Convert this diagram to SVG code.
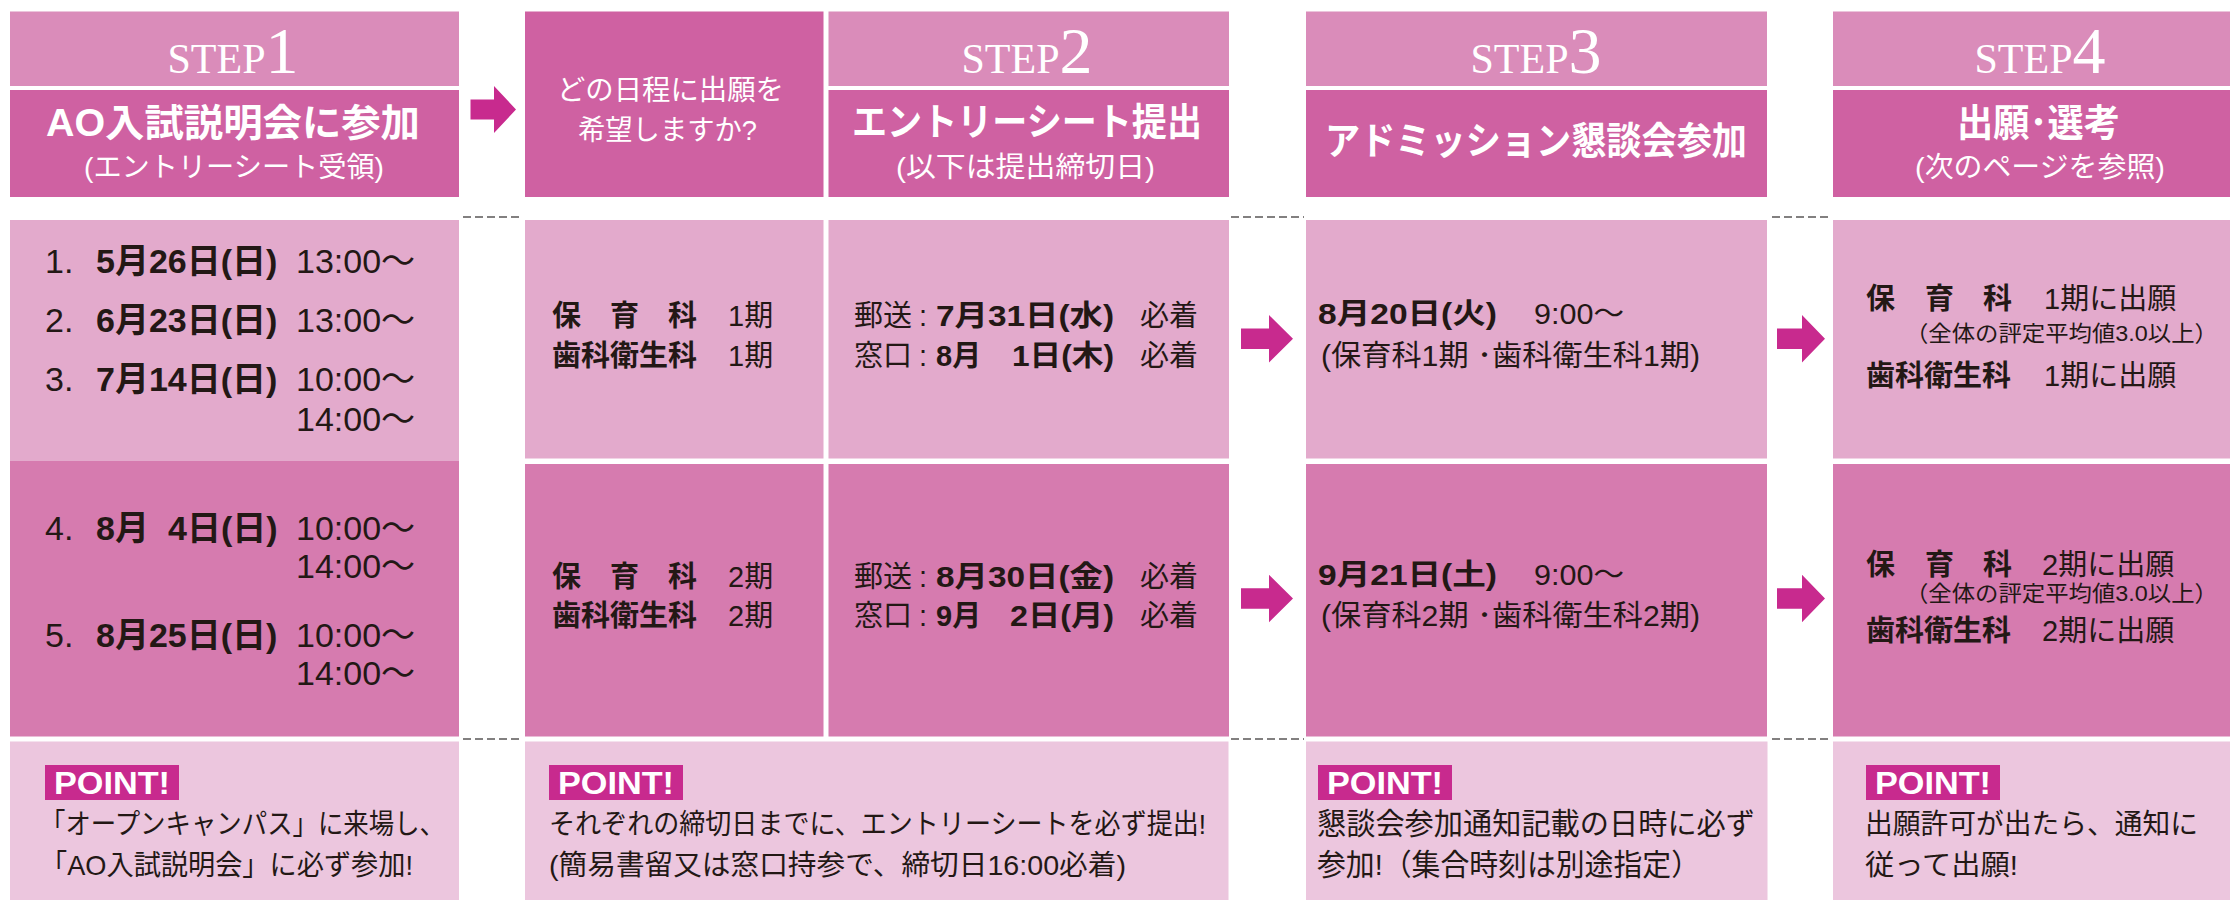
<svg xmlns="http://www.w3.org/2000/svg" width="2230" height="900" viewBox="0 0 2230 900">
<style>
.hl{fill:#DA8CBA}
.hd{fill:#CF61A2}
.r1{fill:#E3AACC}
.r2{fill:#D67BAF}
.pt{fill:#ECC6DE}
.ar{fill:#C82A8E}
.dash{stroke:#595757;stroke-width:1.6;stroke-dasharray:8 4;fill:none}
.step{font-family:"Liberation Serif",serif;fill:#fff;font-size:42px}
.stepn{font-size:66px}
.ttl{font-family:"Liberation Sans","Noto Sans CJK JP",sans-serif;font-weight:bold;fill:#fff;font-size:38px}
.sub{font-family:"Liberation Sans","Noto Sans CJK JP",sans-serif;fill:#fff;font-size:28px}
.t{font-family:"Liberation Sans","Noto Sans CJK JP",sans-serif;fill:#231815}
.b{font-weight:bold}
.f34{font-size:34px}
.f30{font-size:30px}
.f29{font-size:29px}
.f28{font-size:28px}
.f22{font-size:22px}
.badge{font-family:"Liberation Sans",sans-serif;font-weight:bold;fill:#fff;font-size:31px}
</style>

<g id="step1">
  <g id="step1-header">
    <rect class="hl" x="10" y="11.5" width="449" height="74.5"/>
    <text class="step" x="233" y="73" text-anchor="middle">STEP<tspan class="stepn">1</tspan></text>
  </g>
  <g id="step1-title">
    <rect class="hd" x="10" y="90" width="449" height="107"/>
    <text class="ttl" x="46" y="136" textLength="374" lengthAdjust="spacingAndGlyphs">AO入試説明会に参加</text>
    <text class="sub" x="84" y="177" textLength="300" lengthAdjust="spacingAndGlyphs">(エントリーシート受領)</text>
  </g>
  <g id="step1-dates1">
    <rect class="r1" x="10" y="220" width="449" height="241"/>
    <text class="t f34" y="273"><tspan x="45">1.</tspan><tspan x="96" class="b">5月26日(日)</tspan><tspan x="296">13:00〜</tspan></text>
    <text class="t f34" y="331.5"><tspan x="45">2.</tspan><tspan x="96" class="b">6月23日(日)</tspan><tspan x="296">13:00〜</tspan></text>
    <text class="t f34" y="390.5"><tspan x="45">3.</tspan><tspan x="96" class="b">7月14日(日)</tspan><tspan x="296">10:00〜</tspan></text>
    <text class="t f34" x="296" y="431">14:00〜</text>
  </g>
  <g id="step1-dates2">
    <rect class="r2" x="10" y="461" width="449" height="275.5"/>
    <text class="t f34" y="540"><tspan x="45">4.</tspan><tspan x="96" class="b">8月</tspan><tspan x="168" class="b">4日(日)</tspan><tspan x="296">10:00〜</tspan></text>
    <text class="t f34" x="296" y="578">14:00〜</text>
    <text class="t f34" y="647"><tspan x="45">5.</tspan><tspan x="96" class="b">8月25日(日)</tspan><tspan x="296">10:00〜</tspan></text>
    <text class="t f34" x="296" y="685">14:00〜</text>
  </g>
  <g id="step1-point">
    <rect class="pt" x="10" y="741.5" width="449" height="160"/>
    <rect class="ar" x="45" y="765" width="134" height="35"/>
    <text class="badge" x="54" y="794" textLength="116" lengthAdjust="spacingAndGlyphs">POINT!</text>
    <text class="t f28" x="40" y="834" textLength="405" lengthAdjust="spacingAndGlyphs">「オープンキャンパス」に来場し、</text>
    <text class="t f28" x="40" y="875" textLength="373" lengthAdjust="spacingAndGlyphs">「AO入試説明会」に必ず参加!</text>
  </g>
</g>

<g id="question">
  <g id="question-head">
    <rect class="hd" x="525" y="11.5" width="298.5" height="185.5"/>
    <text class="sub" x="557" y="100" textLength="227" lengthAdjust="spacingAndGlyphs">どの日程に出願を</text>
    <text class="sub" x="578" y="140" textLength="179" lengthAdjust="spacingAndGlyphs">希望しますか?</text>
  </g>
  <g id="question-1">
    <rect class="r1" x="525" y="220" width="298.5" height="238.5"/>
    <text class="t f29 b" y="326"><tspan x="552">保</tspan><tspan x="610">育</tspan><tspan x="668">科</tspan></text>
    <text class="t f29" x="728" y="326">1期</text>
    <text class="t f29 b" x="552" y="366" textLength="145" lengthAdjust="spacingAndGlyphs">歯科衛生科</text>
    <text class="t f29" x="728" y="366">1期</text>
  </g>
  <g id="question-2">
    <rect class="r2" x="525" y="464" width="298.5" height="272.5"/>
    <text class="t f29 b" y="587"><tspan x="552">保</tspan><tspan x="610">育</tspan><tspan x="668">科</tspan></text>
    <text class="t f29" x="728" y="587">2期</text>
    <text class="t f29 b" x="552" y="626" textLength="145" lengthAdjust="spacingAndGlyphs">歯科衛生科</text>
    <text class="t f29" x="728" y="626">2期</text>
  </g>
</g>

<g id="step2">
  <g id="step2-header">
    <rect class="hl" x="828.5" y="11.5" width="400.5" height="74.5"/>
    <text class="step" x="1027" y="73" text-anchor="middle">STEP<tspan class="stepn">2</tspan></text>
  </g>
  <g id="step2-title">
    <rect class="hd" x="828.5" y="90" width="400.5" height="107"/>
    <text class="ttl" x="852" y="135" textLength="350" lengthAdjust="spacingAndGlyphs">エントリーシート提出</text>
    <text class="sub" x="896" y="177" textLength="259" lengthAdjust="spacingAndGlyphs">(以下は提出締切日)</text>
  </g>
  <g id="step2-deadline1">
    <rect class="r1" x="828.5" y="220" width="400.5" height="238.5"/>
    <text class="t f29" y="326"><tspan x="854">郵送</tspan><tspan x="919">:</tspan></text>
    <text class="t f29 b" x="936" y="326" textLength="178" lengthAdjust="spacingAndGlyphs">7月31日(水)</text>
    <text class="t f29" x="1140" y="326">必着</text>
    <text class="t f29" y="366"><tspan x="854">窓口</tspan><tspan x="919">:</tspan></text>
    <text class="t f29 b" x="936" y="366">8月</text>
    <text class="t f29 b" x="1012" y="366" textLength="102" lengthAdjust="spacingAndGlyphs">1日(木)</text>
    <text class="t f29" x="1140" y="366">必着</text>
  </g>
  <g id="step2-deadline2">
    <rect class="r2" x="828.5" y="464" width="400.5" height="272.5"/>
    <text class="t f29" y="587"><tspan x="854">郵送</tspan><tspan x="919">:</tspan></text>
    <text class="t f29 b" x="936" y="587" textLength="178" lengthAdjust="spacingAndGlyphs">8月30日(金)</text>
    <text class="t f29" x="1140" y="587">必着</text>
    <text class="t f29" y="626"><tspan x="854">窓口</tspan><tspan x="919">:</tspan></text>
    <text class="t f29 b" x="936" y="626">9月</text>
    <text class="t f29 b" x="1010" y="626" textLength="104" lengthAdjust="spacingAndGlyphs">2日(月)</text>
    <text class="t f29" x="1140" y="626">必着</text>
  </g>
  <g id="step2-point">
    <rect class="pt" x="525" y="741.5" width="703.5" height="160"/>
    <rect class="ar" x="549" y="765" width="134" height="35"/>
    <text class="badge" x="558" y="794" textLength="116" lengthAdjust="spacingAndGlyphs">POINT!</text>
    <text class="t f28" x="549" y="834" textLength="657" lengthAdjust="spacingAndGlyphs">それぞれの締切日までに、エントリーシートを必ず提出!</text>
    <text class="t f28" x="549" y="875" textLength="577" lengthAdjust="spacingAndGlyphs">(簡易書留又は窓口持参で、締切日16:00必着)</text>
  </g>
</g>

<g id="step3">
  <g id="step3-header">
    <rect class="hl" x="1306" y="11.5" width="461" height="74.5"/>
    <text class="step" x="1536" y="73" text-anchor="middle">STEP<tspan class="stepn">3</tspan></text>
  </g>
  <g id="step3-title">
    <rect class="hd" x="1306" y="90" width="461" height="107"/>
    <text class="ttl" x="1325" y="154" textLength="422" lengthAdjust="spacingAndGlyphs">アドミッション懇談会参加</text>
  </g>
  <g id="step3-meeting1">
    <rect class="r1" x="1306" y="220" width="461" height="238.5"/>
    <text class="t f29 b" x="1318" y="324" textLength="179" lengthAdjust="spacingAndGlyphs">8月20日(火)</text>
    <text class="t f29" x="1534" y="324" textLength="90" lengthAdjust="spacingAndGlyphs">9:00〜</text>
    <text class="t f29" x="1321" y="366" textLength="379" lengthAdjust="spacingAndGlyphs">(保育科1期 ･歯科衛生科1期)</text>
  </g>
  <g id="step3-meeting2">
    <rect class="r2" x="1306" y="464" width="461" height="272.5"/>
    <text class="t f29 b" x="1318" y="585" textLength="179" lengthAdjust="spacingAndGlyphs">9月21日(土)</text>
    <text class="t f29" x="1534" y="585" textLength="90" lengthAdjust="spacingAndGlyphs">9:00〜</text>
    <text class="t f29" x="1321" y="626" textLength="379" lengthAdjust="spacingAndGlyphs">(保育科2期 ･歯科衛生科2期)</text>
  </g>
  <g id="step3-point">
    <rect class="pt" x="1306" y="741.5" width="461.5" height="160"/>
    <rect class="ar" x="1318" y="765" width="134" height="35"/>
    <text class="badge" x="1327" y="794" textLength="116" lengthAdjust="spacingAndGlyphs">POINT!</text>
    <text class="t f30" x="1317" y="834" textLength="438" lengthAdjust="spacingAndGlyphs">懇談会参加通知記載の日時に必ず</text>
    <text class="t f30" x="1317" y="875" textLength="383" lengthAdjust="spacingAndGlyphs">参加!（集合時刻は別途指定）</text>
  </g>
</g>

<g id="step4">
  <g id="step4-header">
    <rect class="hl" x="1833" y="11.5" width="400" height="74.5"/>
    <text class="step" x="2040" y="73" text-anchor="middle">STEP<tspan class="stepn">4</tspan></text>
  </g>
  <g id="step4-title">
    <rect class="hd" x="1833" y="90" width="400" height="107"/>
    <text class="ttl" x="1957" y="136" textLength="163" lengthAdjust="spacingAndGlyphs">出願･選考</text>
    <text class="sub" x="1915" y="177" textLength="250" lengthAdjust="spacingAndGlyphs">(次のページを参照)</text>
  </g>
  <g id="step4-apply1">
    <rect class="r1" x="1833" y="220" width="400" height="238.5"/>
    <text class="t f29 b" y="309"><tspan x="1866">保</tspan><tspan x="1925">育</tspan><tspan x="1983">科</tspan></text>
    <text class="t f29" x="2044" y="309">1期に出願</text>
    <text class="t f22" x="1905" y="341" textLength="313" lengthAdjust="spacingAndGlyphs">（全体の評定平均値3.0以上）</text>
    <text class="t f29 b" x="1866" y="386" textLength="145" lengthAdjust="spacingAndGlyphs">歯科衛生科</text>
    <text class="t f29" x="2044" y="386">1期に出願</text>
  </g>
  <g id="step4-apply2">
    <rect class="r2" x="1833" y="464" width="400" height="272.5"/>
    <text class="t f29 b" y="575"><tspan x="1866">保</tspan><tspan x="1925">育</tspan><tspan x="1983">科</tspan></text>
    <text class="t f29" x="2042" y="575">2期に出願</text>
    <text class="t f22" x="1905" y="601" textLength="313" lengthAdjust="spacingAndGlyphs">（全体の評定平均値3.0以上）</text>
    <text class="t f29 b" x="1866" y="641" textLength="145" lengthAdjust="spacingAndGlyphs">歯科衛生科</text>
    <text class="t f29" x="2042" y="641">2期に出願</text>
  </g>
  <g id="step4-point">
    <rect class="pt" x="1833" y="741.5" width="400" height="160"/>
    <rect class="ar" x="1866" y="765" width="134" height="35"/>
    <text class="badge" x="1875" y="794" textLength="116" lengthAdjust="spacingAndGlyphs">POINT!</text>
    <text class="t f28" x="1865" y="834" textLength="333" lengthAdjust="spacingAndGlyphs">出願許可が出たら、通知に</text>
    <text class="t f28" x="1865" y="875" textLength="153" lengthAdjust="spacingAndGlyphs">従って出願!</text>
  </g>
</g>

<g id="connectors">
  <path class="ar" d="M470.5,99.5 H494 V86 L516,109.5 L494,133 V119.5 H470.5 Z"/>
  <path class="ar" d="M1241,328.5 H1269 V315 L1293,338.7 L1269,362.4 V349 H1241 Z"/>
  <path class="ar" d="M1241,588.3 H1269 V574.8 L1293,598.5 L1269,622.2 V608.8 H1241 Z"/>
  <path class="ar" d="M1777,328.5 H1802 V315 L1825,338.7 L1802,362.4 V349 H1777 Z"/>
  <path class="ar" d="M1777,588.3 H1802 V574.8 L1825,598.5 L1802,622.2 V608.8 H1777 Z"/>
  <line class="dash" x1="463" y1="217" x2="523" y2="217"/>
  <line class="dash" x1="1231" y1="217" x2="1304" y2="217"/>
  <line class="dash" x1="1772" y1="217" x2="1830" y2="217"/>
  <line class="dash" x1="463" y1="739" x2="523" y2="739"/>
  <line class="dash" x1="1231" y1="739" x2="1304" y2="739"/>
  <line class="dash" x1="1772" y1="739" x2="1830" y2="739"/>
</g>
</svg>
